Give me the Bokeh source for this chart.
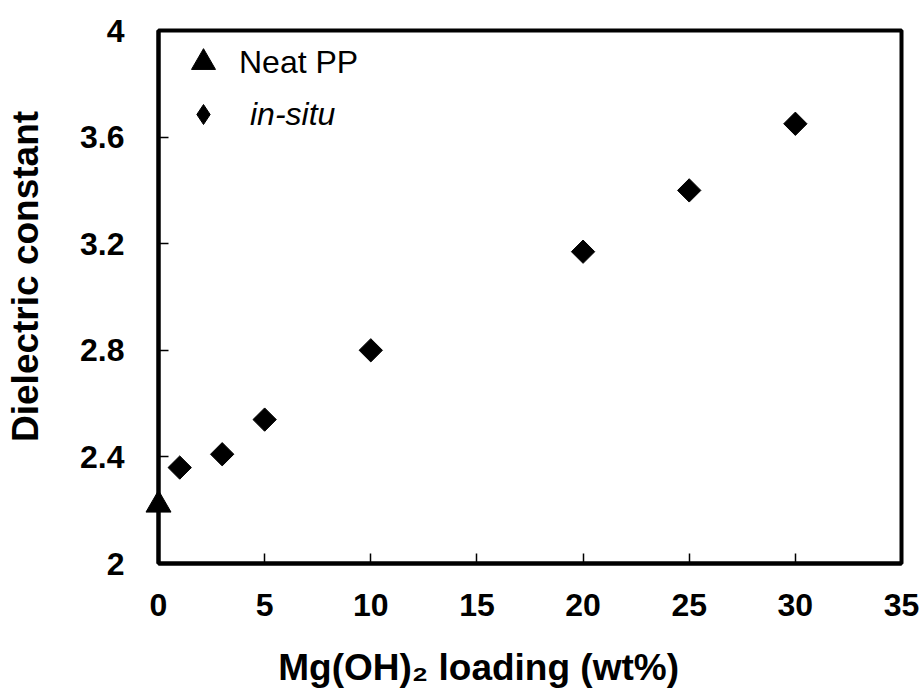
from bokeh.plotting import figure
from bokeh.models import FixedTicker, Legend, LegendItem, Range1d
from bokeh.embed import file_html
from bokeh.resources import INLINE
import math

# ---- data ----
neat_x = [0]
neat_y = [2.22]
insitu_x = [1, 3, 5, 10, 20, 25, 30]
insitu_y = [2.36, 2.41, 2.54, 2.80, 3.17, 3.40, 3.65]
x_ticks = [0, 5, 10, 15, 20, 25, 30, 35]
y_ticks = [2.0, 2.4, 2.8, 3.2, 3.6, 4.0]
y_tick_labels = ["2", "2.4", "2.8", "3.2", "3.6", "4"]
series_names = ["Neat PP", "in-situ"]
y_title = "Dielectric constant"
x_title = "Mg(OH)\u2082 loading (wt%)"

FONT = "Liberation Sans"
W, H = 924, 698
NBSP = "\u00a0"

p = figure(width=W, height=H, output_backend="svg", toolbar_location=None,
           x_range=Range1d(0, 35), y_range=Range1d(2, 4),
           min_border_left=158, min_border_right=23,
           min_border_top=30, min_border_bottom=135)
p.background_fill_color = "white"
p.border_fill_color = "white"
p.xgrid.visible = False
p.ygrid.visible = False
p.outline_line_color = "black"
p.outline_line_width = 4

for ax in (p.xaxis[0], p.yaxis[0]):
    ax.axis_line_width = 4
    ax.axis_line_color = "black"
    ax.major_tick_in = 10
    ax.major_tick_out = 0
    ax.major_tick_line_width = 1.5
    ax.major_tick_line_color = "black"
    ax.minor_tick_line_color = None
    ax.major_label_text_font = FONT
    ax.major_label_text_font_style = "bold"
    ax.major_label_text_font_size = "32px"
    ax.major_label_text_color = "black"
    ax.axis_label_text_font = FONT
    ax.axis_label_text_font_style = "bold"
    ax.axis_label_text_font_size = "37px"
    ax.axis_label_text_color = "black"

p.xaxis[0].ticker = FixedTicker(ticks=x_ticks)
p.xaxis[0].major_label_standoff = 30
# title sits left of the frame centre, as in the original (padding shifts it)
p.xaxis[0].axis_label = x_title + NBSP * 10
p.xaxis[0].axis_label_standoff = 28

p.yaxis[0].ticker = FixedTicker(ticks=y_ticks)
p.yaxis[0].major_label_overrides = dict(zip(y_ticks, y_tick_labels))
p.yaxis[0].major_label_standoff = 34
p.yaxis[0].axis_label = NBSP * 4 + y_title
p.yaxis[0].axis_label_standoff = 31

tri = p.scatter(neat_x, neat_y, marker="triangle", size=25,
                fill_color="black", line_color="black", level="overlay")
dia = p.scatter(insitu_x, insitu_y, marker="square", size=16.5, angle=math.pi / 4,
                fill_color="black", line_color="black")
# legend swatch for the diamond series (legend markers ignore rotation);
# NaN coordinates -> nothing drawn in the plot area
dia_key = p.scatter([float("nan")], [float("nan")], marker="diamond", size=20,
                    fill_color="black", line_color="black")


def make_legend(name, rend, glyph, loc, standoff, style):
    lg = Legend(items=[LegendItem(label=name, renderers=[rend])],
                location=loc, glyph_width=glyph, glyph_height=glyph,
                label_standoff=standoff, padding=0, margin=0, spacing=0,
                border_line_color=None, background_fill_alpha=0,
                label_text_font=FONT, label_text_font_size="32px",
                label_text_font_style=style, label_text_color="black")
    p.add_layout(lg, "center")


make_legend(series_names[0], tri, 60, (15, 471), 6, "normal")
make_legend(series_names[1], dia_key, 50, (20, 424), 22, "italic")

open("out.html", "w").write(file_html(p, INLINE))
